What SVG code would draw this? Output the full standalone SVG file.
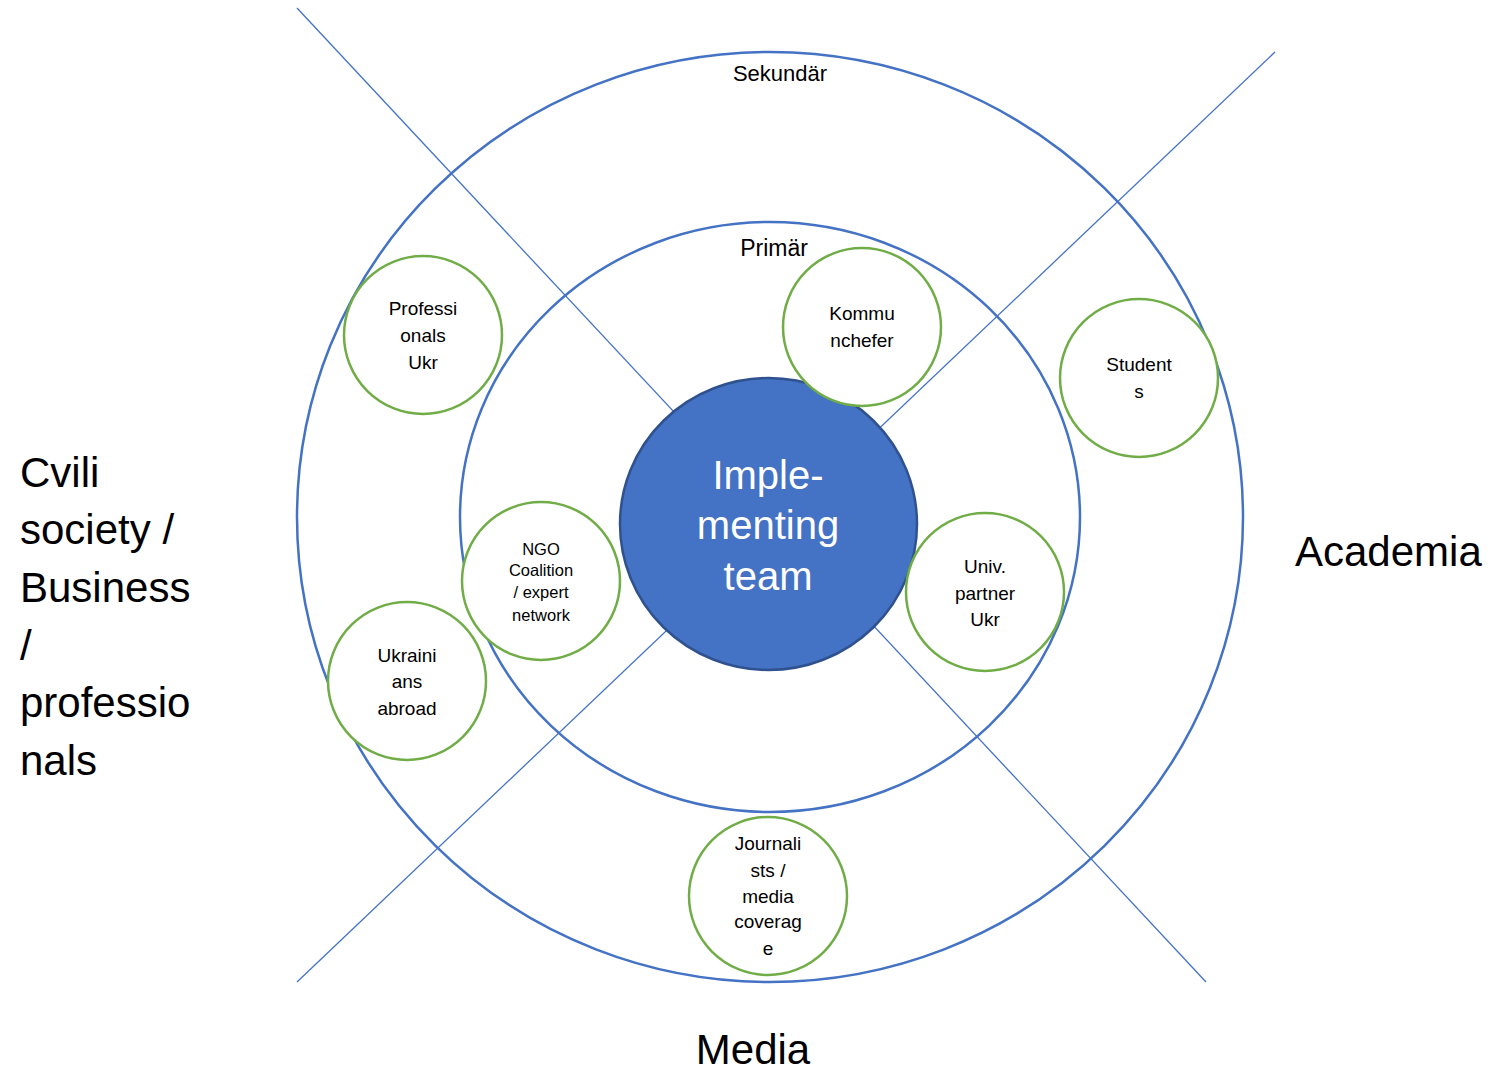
<svg xmlns="http://www.w3.org/2000/svg" width="1496" height="1073" viewBox="0 0 1496 1073">
<style>
text{font-family:"Liberation Sans",Arial,sans-serif;fill:#000;text-anchor:middle}
.ring{fill:none;stroke:#4472C4;stroke-width:2.5}
.axis{stroke:#4472C4;stroke-width:1.3;fill:none}
.node{fill:#fff;stroke:#70AD47;stroke-width:2.5}
.t{font-size:19px}
.s{font-size:16.5px}
.big{font-size:42px;text-anchor:start}
</style>
<rect width="1496" height="1073" fill="#fff"/>
<g id="connectors">
<line class="axis" x1="297" y1="8" x2="1206" y2="982"/>
<line class="axis" x1="1275" y1="52" x2="297" y2="982"/>
</g>
<g id="outer-ring">
<ellipse class="ring" cx="770" cy="517" rx="473" ry="465"/>
<text x="780" y="81" style="font-size:22px">Sekundär</text>
</g>
<g id="inner-ring">
<ellipse class="ring" cx="770" cy="517" rx="310" ry="295"/>
<text x="774" y="256" style="font-size:23px">Primär</text>
</g>
<g id="implementing-team">
<ellipse cx="768.5" cy="524" rx="148.5" ry="146" fill="#4472C4" stroke="#2F528F" stroke-width="2.5"/>
<text x="768" y="489" style="font-size:40px;fill:#fff">Imple-</text>
<text x="768" y="539" style="font-size:40px;fill:#fff">menting</text>
<text x="768" y="590" style="font-size:40px;fill:#fff">team</text>
</g>
<g id="professionals-ukr">
<circle class="node" cx="423" cy="335" r="79"/>
<text class="t" x="423" y="315">Professi</text>
<text class="t" x="423" y="342">onals</text>
<text class="t" x="423" y="369">Ukr</text>
</g>
<g id="kommunchefer">
<circle class="node" cx="862" cy="327" r="79"/>
<text class="t" x="862" y="320">Kommu</text>
<text class="t" x="862" y="347">nchefer</text>
</g>
<g id="students">
<circle class="node" cx="1139" cy="378" r="79"/>
<text class="t" x="1139" y="371">Student</text>
<text class="t" x="1139" y="398">s</text>
</g>
<g id="ngo-coalition">
<circle class="node" cx="541" cy="581" r="79"/>
<text class="s" x="541" y="555">NGO</text>
<text class="s" x="541" y="576">Coalition</text>
<text class="s" x="541" y="598">/ expert</text>
<text class="s" x="541" y="621">network</text>
</g>
<g id="univ-partner-ukr">
<circle class="node" cx="985" cy="592" r="79"/>
<text class="t" x="985" y="573">Univ.</text>
<text class="t" x="985" y="600">partner</text>
<text class="t" x="985" y="626">Ukr</text>
</g>
<g id="ukrainians-abroad">
<circle class="node" cx="407" cy="681" r="79"/>
<text class="t" x="407" y="662">Ukraini</text>
<text class="t" x="407" y="688">ans</text>
<text class="t" x="407" y="715">abroad</text>
</g>
<g id="journalists">
<circle class="node" cx="768" cy="896" r="79"/>
<text class="t" x="768" y="850">Journali</text>
<text class="t" x="768" y="877">sts /</text>
<text class="t" x="768" y="903">media</text>
<text class="t" x="768" y="928">coverag</text>
<text class="t" x="768" y="955">e</text>
</g>
<g id="label-civil-society">
<text class="big" x="20" y="487">Cvili</text>
<text class="big" x="20" y="544">society /</text>
<text class="big" x="20" y="602">Business</text>
<text class="big" x="20" y="660">/</text>
<text class="big" x="20" y="717">professio</text>
<text class="big" x="20" y="775">nals</text>
</g>
<g id="label-academia">
<text class="big" x="1295" y="566">Academia</text>
</g>
<g id="label-media">
<text x="753" y="1064" style="font-size:42px">Media</text>
</g>
</svg>
